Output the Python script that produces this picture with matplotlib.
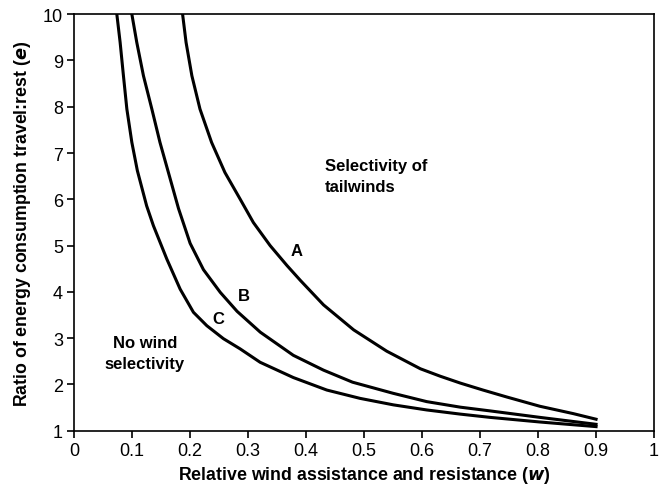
import matplotlib
matplotlib.use("Agg")
import matplotlib.pyplot as plt

plt.rcParams["font.family"] = ["Liberation Sans", "DejaVu Sans"]

# -----------------------------
# Data
# -----------------------------
w_a = [0.187, 0.193, 0.203, 0.217, 0.237, 0.260, 0.286, 0.309, 0.338, 0.367, 0.390, 0.430,
       0.482, 0.539, 0.597, 0.631, 0.666, 0.705, 0.746, 0.803, 0.861, 0.900]
e_a = [10.0, 9.39, 8.67, 7.95, 7.23, 6.58, 6.01, 5.50, 5.00, 4.57, 4.25, 3.72,
       3.18, 2.72, 2.34, 2.18, 2.03, 1.88, 1.73, 1.53, 1.37, 1.25]

w_b = [0.0995, 0.108, 0.1195, 0.134, 0.148, 0.163, 0.180, 0.200, 0.223, 0.252, 0.281,
       0.321, 0.378, 0.430, 0.480, 0.550, 0.608, 0.666, 0.717, 0.803, 0.900]
e_b = [10.0, 9.39, 8.67, 7.95, 7.23, 6.56, 5.80, 5.05, 4.48, 3.99, 3.58,
       3.13, 2.63, 2.31, 2.05, 1.81, 1.63, 1.51, 1.43, 1.29, 1.14]

w_c = [0.0736, 0.0793, 0.085, 0.0909, 0.0995, 0.109, 0.125, 0.1367, 0.1598, 0.1828, 0.2057,
       0.2288, 0.2574, 0.2862, 0.3207, 0.378, 0.4357, 0.4931, 0.5505, 0.608, 0.666, 0.717,
       0.803, 0.900]
e_c = [10.0, 9.39, 8.67, 7.95, 7.23, 6.62, 5.86, 5.43, 4.71, 4.06, 3.56,
       3.27, 2.99, 2.77, 2.48, 2.15, 1.88, 1.70, 1.56, 1.45, 1.36, 1.29,
       1.19, 1.09]

curve_labels = ["A", "B", "C"]
label_pos = [(0.384, 4.9), (0.292, 3.93), (0.249, 3.42)]

x_ticks = [0, 0.1, 0.2, 0.3, 0.4, 0.5, 0.6, 0.7, 0.8, 0.9, 1]
x_tick_labels = ["0", "0.1", "0.2", "0.3", "0.4", "0.5", "0.6", "0.7", "0.8", "0.9", "1"]
y_ticks = list(range(1, 11))

# -----------------------------
# Plot
# -----------------------------
fig = plt.figure(figsize=(6.62, 4.89), dpi=100)
ax = fig.add_axes([0.112, 0.117, 0.876, 0.852])

for w, e in [(w_a, e_a), (w_b, e_b), (w_c, e_c)]:
    ax.plot(w, e, color="black", linewidth=2.2, solid_joinstyle="round")

for lab, (x, y) in zip(curve_labels, label_pos):
    ax.text(x, y, lab, fontsize=12, fontweight="bold", ha="center", va="center")

ax.text(0.433, 6.72, "Selectivity of", fontsize=12, fontweight="bold", ha="left", va="center")
ax.text(0.433, 6.27, "tailwinds", fontsize=12, fontweight="bold", ha="left", va="center")
ax.text(0.122, 2.90, "No wind", fontsize=12, fontweight="bold", ha="center", va="center")
ax.text(0.122, 2.45, "selectivity", fontsize=12, fontweight="bold", ha="center", va="center")

ax.set_xlim(0, 1)
ax.set_ylim(1, 10)
ax.set_xticks(x_ticks)
ax.set_xticklabels(x_tick_labels)
ax.set_yticks(y_ticks)
ax.tick_params(direction="out", length=5, width=1.2, labelsize=13, pad=3)
for s in ax.spines.values():
    s.set_linewidth(1.2)

ax.set_xlabel("Relative wind assistance and resistance ($\\mathbfit{w}$)",
              fontsize=12.8, fontweight="bold", labelpad=4)
ax.set_ylabel("Ratio of energy consumption travel:rest ($\\mathbfit{e}$)",
              fontsize=12.8, fontweight="bold", labelpad=7)

fig.savefig("out.png", dpi=100)
